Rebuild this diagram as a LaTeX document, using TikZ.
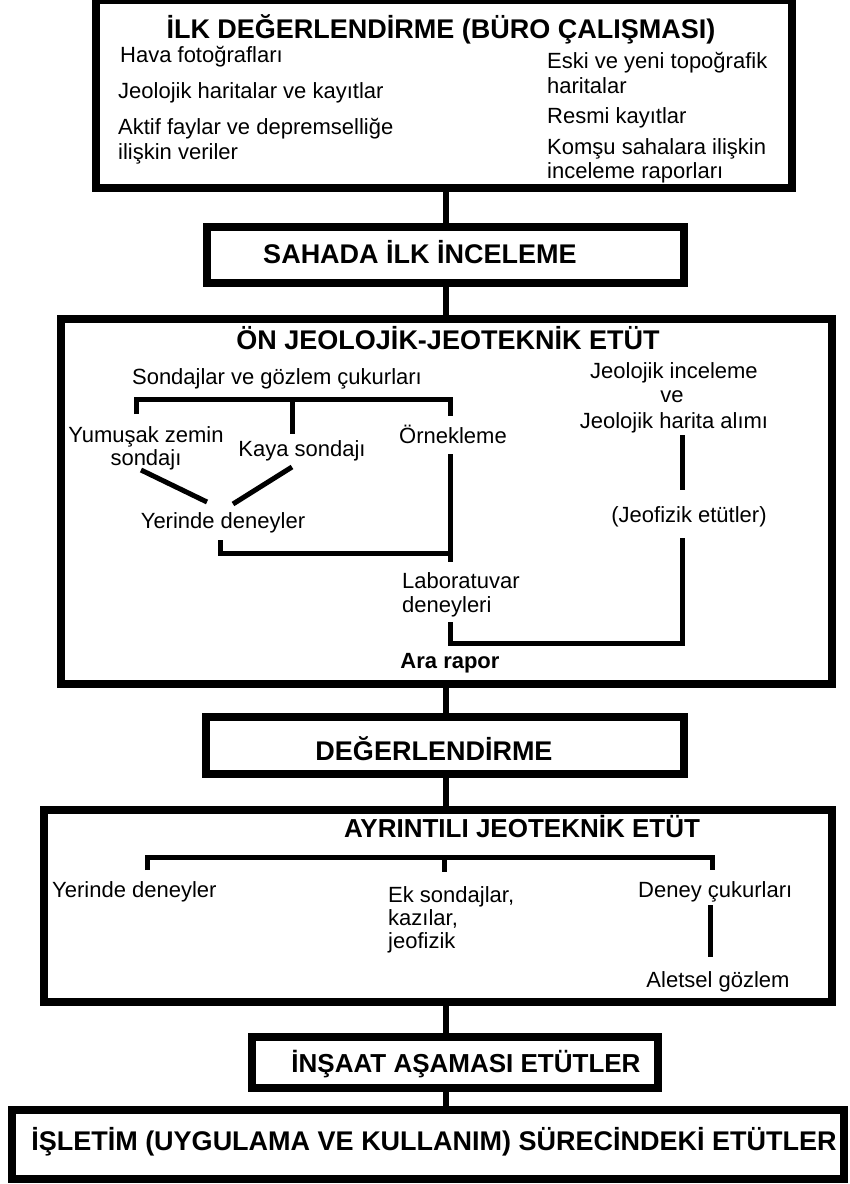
\documentclass[tikz,border=0pt]{standalone}
\usepackage{fontspec}
\setmainfont{Liberation Sans}
\begin{document}
\begin{tikzpicture}[x=1pt,y=-1pt,
  box/.style={draw=black, line width=8pt, rectangle, inner sep=0pt},
  conn/.style={line width=6.5pt},
  ln/.style={line width=5pt},
  tx/.style={font=\fontsize{22}{26}\selectfont, inner sep=0pt},
  hd/.style={font=\fontsize{27}{32}\selectfont\bfseries, inner sep=0pt},
  hs/.style={font=\fontsize{26}{32}\selectfont\bfseries, inner sep=0pt}]
\useasboundingbox (0,0) rectangle (850,1184);
\fill[white] (0,0) rectangle (850,1184);

% boxes
\node[box, minimum width=696pt, minimum height=188pt] (b1) at (444,94) {};
\node[box, minimum width=477pt, minimum height=56pt] (b2) at (445.5,255) {};
\node[box, minimum width=771pt, minimum height=365pt] (b3) at (446.5,501.5) {};
\node[box, minimum width=478pt, minimum height=57pt] (b4) at (445,745.5) {};
\node[box, minimum width=788pt, minimum height=192pt] (b5) at (438,906) {};
\node[box, minimum width=406pt, minimum height=51pt] (b6) at (455,1062.5) {};
\node[box, minimum width=832pt, minimum height=69pt] (b7) at (428,1144.5) {};

% connectors between boxes
\coordinate (cx) at (446,0);
\draw[conn] (b1.south -| cx) -- (b2.north -| cx);
\draw[conn] (b2.south -| cx) -- (b3.north -| cx);
\draw[conn] (b3.south -| cx) -- (b4.north -| cx);
\draw[conn] (b4.south -| cx) -- (b5.north -| cx);
\draw[conn] (b5.south -| cx) -- (b6.north -| cx);
\draw[conn] (b6.south -| cx) -- (b7.north -| cx);

% box 1
\node[hd, anchor=base] (t1) at (441,38) {İLK DEĞERLENDİRME (BÜRO ÇALIŞMASI)};
\node[tx, anchor=base west] (a1) at (120,62) {Hava fotoğrafları};
\node[tx, anchor=base west] (a2) at (118,98) {Jeolojik haritalar ve kayıtlar};
\node[tx, anchor=base west] (a3) at (118,134) {Aktif faylar ve depremselliğe};
\node[tx, anchor=base west] (a4) at (118,159) {ilişkin veriler};
\node[tx, anchor=base west] (r1) at (547,68) {Eski ve yeni topoğrafik};
\node[tx, anchor=base west] (r2) at (547,93) {haritalar};
\node[tx, anchor=base west] (r3) at (547,123) {Resmi kayıtlar};
\node[tx, anchor=base west] (r4) at (547,154) {Komşu sahalara ilişkin};
\node[tx, anchor=base west] (r5) at (547,178) {inceleme raporları};

% box 2
\node[hd, anchor=base] (t2) at (420,263) {SAHADA İLK İNCELEME};

% box 3
\node[hd, anchor=base] (t3) at (448,349) {ÖN JEOLOJİK-JEOTEKNİK ETÜT};
\node[tx, anchor=base] (son) at (277,384) {Sondajlar ve gözlem çukurları};
\node[tx, anchor=base] (ji1) at (674,378) {Jeolojik inceleme};
\node[tx, anchor=base] (ji2) at (672,402) {ve};
\node[tx, anchor=base] (ji3) at (674,428) {Jeolojik harita alımı};
\node[tx, anchor=base] (yum1) at (146,442) {Yumuşak zemin};
\node[tx, anchor=base] (yum2) at (146,465) {sondajı};
\node[tx, anchor=base] (kaya) at (302,456) {Kaya sondajı};
\node[tx, anchor=base] (orn) at (453,443) {Örnekleme};
\node[tx, anchor=base] (yer) at (223,528) {Yerinde deneyler};
\node[tx, anchor=base west] (lab1) at (402,588) {Laboratuvar};
\node[tx, anchor=base west] (lab2) at (402,612) {deneyleri};
\node[tx, anchor=base] (jeof) at (689,522) {(Jeofizik etütler)};
\node[tx, anchor=base, font=\fontsize{22}{26}\selectfont\bfseries] (ara) at (450,668) {Ara rapor};

\coordinate (bl) at (136,414);
\coordinate (bm) at (292,434);
\coordinate (br) at (450,416);
\draw[ln] (bl) -- (136,399.5) -- (450,399.5) -- (br);
\draw[ln] (292,399.5) -- (bm);
\coordinate (y1a) at (141,470);
\coordinate (y1b) at (207,502);
\coordinate (k1a) at (292,467);
\coordinate (k1b) at (233,504);
\draw[ln] (y1a) -- (y1b);
\draw[ln] (k1a) -- (k1b);
\coordinate (yd) at (220,540);
\coordinate (oa) at (450,454);
\coordinate (ob) at (450,562);
\draw[ln] (yd) -- (220,553) -- (450,553);
\draw[ln] (oa) -- (ob);
\coordinate (la) at (450,622);
\coordinate (ga) at (682,538);
\draw[ln] (la) -- (450,643) -- (682,643) -- (ga);
\coordinate (gt) at (682,435);
\coordinate (gb) at (682,490);
\draw[ln] (gt) -- (gb);

% box 4
\node[hd, anchor=base] (t4) at (434,760) {DEĞERLENDİRME};

% box 5
\node[hs, anchor=base] (t5) at (522,837) {AYRINTILI JEOTEKNİK ETÜT};
\coordinate (cl) at (147,870);
\coordinate (cm) at (444,872);
\coordinate (cr) at (712,870);
\draw[ln] (cl) -- (147,857.5) -- (712,857.5) -- (cr);
\draw[ln] (444,857.5) -- (cm);
\node[tx, anchor=base west] (yd2) at (52,897) {Yerinde deneyler};
\node[tx, anchor=base west] (ek1) at (388,902) {Ek sondajlar,};
\node[tx, anchor=base west] (ek2) at (388,925) {kazılar,};
\node[tx, anchor=base west] (ek3) at (388,948) {jeofizik};
\node[tx, anchor=base west] (dc) at (638,897) {Deney çukurları};
\node[tx, anchor=base] (alt) at (718,987) {Aletsel gözlem};
\coordinate (da) at (710,905);
\coordinate (db) at (710,957);
\draw[ln] (da) -- (db);

% box 6, 7
\node[hs, anchor=base] (t6) at (466,1072) {İNŞAAT AŞAMASI ETÜTLER};
\node[hd, anchor=base] (t7) at (434,1150) {İŞLETİM (UYGULAMA VE KULLANIM) SÜRECİNDEKİ ETÜTLER};
\end{tikzpicture}
\end{document}
